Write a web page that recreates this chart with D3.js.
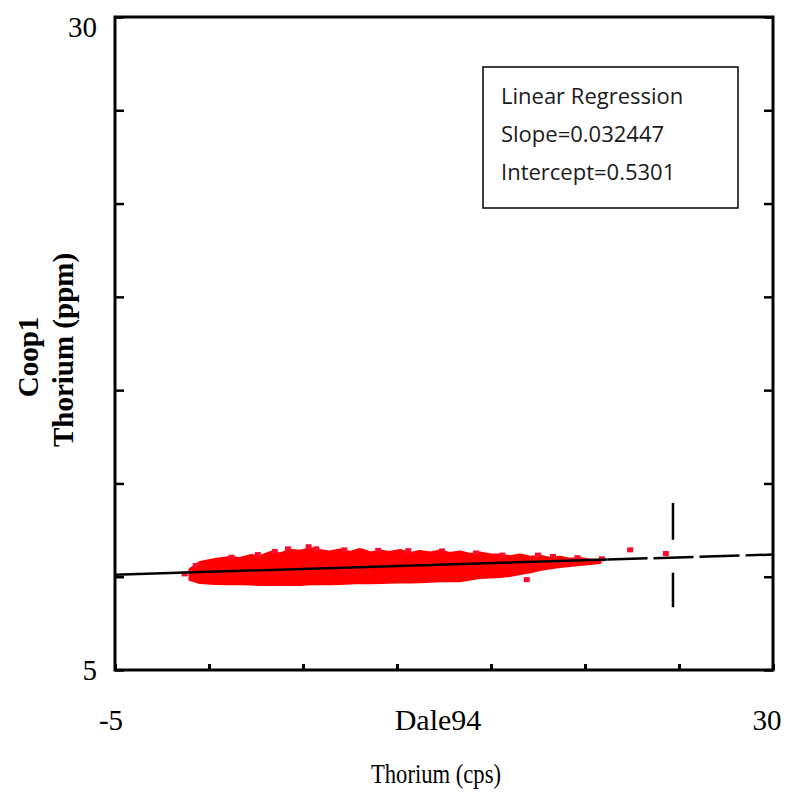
<!DOCTYPE html>
<html>
<head>
<meta charset="utf-8">
<script src="https://cdn.jsdelivr.net/npm/d3@7"></script>
<style>
  body { margin: 0; background: #fff; }
  .serif { font-family: 'Liberation Serif', 'Times New Roman', serif; }
  .calib { font-family: 'Open Sans', sans-serif; }
</style>
</head>
<body>
<div id="chart"></div>
<script>
// axis ranges
let xDomain = [-5, 30];
let yDomain = [5, 30];
let xTickLabels = ['-5', '30'];
let yTickLabels = ['5', '30'];

// dense part of the red cloud: x, upper edge, lower edge
let cloudX     = [-1.01, -0.48, 0.32, 1.0, 1.65, 2.2, 2.71, 3.3, 3.78, 4.3, 4.84, 5.4, 5.90, 6.4, 6.97, 7.5, 8.03, 8.6, 9.10, 9.6, 10.16, 10.7, 11.22, 11.8, 12.29, 12.8, 13.35, 13.9, 14.41, 15.0, 15.48, 16.0, 16.54, 17.1, 17.61, 18.1, 18.67, 19.2, 19.73, 20.3, 20.80];
let cloudTop   = [8.85, 9.12, 9.23, 9.30, 9.27, 9.38, 9.35, 9.50, 9.44, 9.58, 9.55, 9.64, 9.58, 9.52, 9.60, 9.50, 9.62, 9.48, 9.56, 9.50, 9.58, 9.46, 9.54, 9.48, 9.56, 9.46, 9.52, 9.42, 9.48, 9.40, 9.40, 9.34, 9.40, 9.32, 9.36, 9.28, 9.32, 9.24, 9.27, 9.20, 9.20];
let cloudBot   = [8.46, 8.35, 8.31, 8.30, 8.31, 8.29, 8.27, 8.27, 8.27, 8.28, 8.27, 8.30, 8.31, 8.30, 8.31, 8.33, 8.35, 8.34, 8.35, 8.36, 8.38, 8.37, 8.38, 8.40, 8.42, 8.43, 8.42, 8.48, 8.54, 8.56, 8.58, 8.62, 8.69, 8.76, 8.85, 8.90, 8.96, 9.00, 9.04, 9.08, 9.12];

// loose points round the edge of the cloud
let looseX = [-1.3, -0.7, 1.2, 2.6, 3.5, 4.2, 5.3, 5.7, 7.2, 9.0, 10.6, 12.4, 14.2, 15.6, 16.9, 17.5, 18.3, 19.6, 20.9, 22.4, 24.3];
let looseY = [8.66, 8.98, 9.30, 9.40, 9.52, 9.62, 9.70, 9.62, 9.58, 9.56, 9.55, 9.54, 9.46, 9.38, 8.44, 9.38, 9.33, 9.28, 9.24, 9.58, 9.44];

// fitted line and marker
let fitX = [-5, 21.2, 30];
let fitY = [8.65, 9.23, 9.42];
let crossX = 24.68;
let crossY = [7.4, 11.4];

let statLines = ['Linear Regression', 'Slope=0.032447', 'Intercept=0.5301'];

let width = 788, height = 795;
let plotLeft = 115, plotRight = 773, plotTop = 17, plotBottom = 670;

let svg = d3.select('#chart').append('svg')
  .attr('width', width).attr('height', height);

let x = d3.scaleLinear().domain(xDomain).range([plotLeft, plotRight]);
let y = d3.scaleLinear().domain(yDomain).range([plotBottom, plotTop]);

// cloud
let cloud = cloudX.map(function(d, i) { return { x: d, y0: cloudBot[i], y1: cloudTop[i] }; });
let area = d3.area()
  .x(function(d) { return x(d.x); })
  .y0(function(d) { return y(d.y0); })
  .y1(function(d) { return y(d.y1); });
svg.append('path').datum(cloud)
  .attr('d', area)
  .attr('fill', '#ff0000')
  .attr('stroke', '#ff0000')
  .attr('stroke-width', 3)
  .attr('stroke-linejoin', 'round');

svg.selectAll('.loose')
  .data(looseX).enter()
  .append('rect')
  .attr('class', 'loose')
  .attr('x', function(d) { return x(d) - 3; })
  .attr('y', function(d, i) { return y(looseY[i]) - 3; })
  .attr('width', 6).attr('height', 5)
  .attr('fill', '#ff0a2a');

// regression line: solid over the data, dashed beyond
svg.append('line')
  .attr('x1', x(fitX[0])).attr('y1', y(fitY[0]))
  .attr('x2', x(fitX[1])).attr('y2', y(fitY[1]))
  .attr('stroke', '#000').attr('stroke-width', 2.5);
svg.append('line')
  .attr('x1', x(fitX[1])).attr('y1', y(fitY[1]))
  .attr('x2', x(fitX[2])).attr('y2', y(fitY[2]))
  .attr('stroke', '#000').attr('stroke-width', 2.5)
  .attr('stroke-dasharray', '40,6');

svg.append('line')
  .attr('x1', x(crossX)).attr('y1', y(crossY[1]))
  .attr('x2', x(crossX)).attr('y2', y(crossY[0]))
  .attr('stroke', '#000').attr('stroke-width', 2.5)
  .attr('stroke-dasharray', '37,33');

// frame and ticks
svg.append('rect')
  .attr('x', plotLeft).attr('y', plotTop)
  .attr('width', plotRight - plotLeft).attr('height', plotBottom - plotTop)
  .attr('fill', 'none').attr('stroke', '#000').attr('stroke-width', 3);

let xTicks = d3.range(-5, 30.1, 5);
let yTicks = d3.range(8).map(function(i) { return yDomain[0] + i * (yDomain[1] - yDomain[0]) / 7; });

svg.append('g').attr('transform', 'translate(0,' + plotBottom + ')')
  .call(d3.axisBottom(x).tickValues(xTicks).tickSize(-6).tickFormat(''))
  .call(function(g) { g.select('.domain').remove(); g.selectAll('line').attr('stroke-width', 3); });
svg.append('g').attr('transform', 'translate(' + plotLeft + ',0)')
  .call(d3.axisLeft(y).tickValues(yTicks).tickSize(-9).tickFormat(''))
  .call(function(g) { g.select('.domain').remove(); g.selectAll('line').attr('stroke-width', 2.5); });
svg.append('g').attr('transform', 'translate(' + plotRight + ',0)')
  .call(d3.axisRight(y).tickValues(yTicks).tickSize(-9).tickFormat(''))
  .call(function(g) { g.select('.domain').remove(); g.selectAll('line').attr('stroke-width', 2.5); });

// tick labels
svg.append('text').attr('class', 'serif')
  .attr('x', x(xDomain[0]) - 4).attr('y', 730)
  .attr('text-anchor', 'middle').attr('font-size', 29)
  .text(xTickLabels[0]);
svg.append('text').attr('class', 'serif')
  .attr('x', x(xDomain[1]) - 6).attr('y', 730)
  .attr('text-anchor', 'middle').attr('font-size', 29)
  .text(xTickLabels[1]);
svg.append('text').attr('class', 'serif')
  .attr('x', 97).attr('y', y(yDomain[0]) + 10)
  .attr('text-anchor', 'end').attr('font-size', 29)
  .text(yTickLabels[0]);
svg.append('text').attr('class', 'serif')
  .attr('x', 97).attr('y', y(yDomain[1]) + 20)
  .attr('text-anchor', 'end').attr('font-size', 29)
  .text(yTickLabels[1]);

// axis titles
svg.append('text').attr('class', 'serif')
  .attr('x', 438).attr('y', 730)
  .attr('text-anchor', 'middle').attr('font-size', 30)
  .text('Dale94');
svg.append('text').attr('class', 'serif')
  .attr('x', 436).attr('y', 783)
  .attr('text-anchor', 'middle').attr('font-size', 27)
  .attr('textLength', 130).attr('lengthAdjust', 'spacingAndGlyphs')
  .text('Thorium (cps)');
svg.append('text').attr('class', 'serif')
  .attr('transform', 'translate(38,357) rotate(-90)')
  .attr('text-anchor', 'middle').attr('font-size', 29).attr('font-weight', 'bold')
  .text('Coop1');
svg.append('text').attr('class', 'serif')
  .attr('transform', 'translate(73,350) rotate(-90)')
  .attr('text-anchor', 'middle').attr('font-size', 29).attr('font-weight', 'bold')
  .text('Thorium (ppm)');

// stats box
svg.append('rect')
  .attr('x', 483).attr('y', 67)
  .attr('width', 255).attr('height', 141)
  .attr('fill', '#fff').attr('stroke', '#000').attr('stroke-width', 1.5);
for (let i = 0; i < statLines.length; i++) {
  svg.append('text').attr('class', 'calib')
    .attr('x', 501).attr('y', 104 + i * 38)
    .attr('font-size', 22)
    .attr('fill', '#1a1a1a')
    .text(statLines[i]);
}
</script>
</body>
</html>
